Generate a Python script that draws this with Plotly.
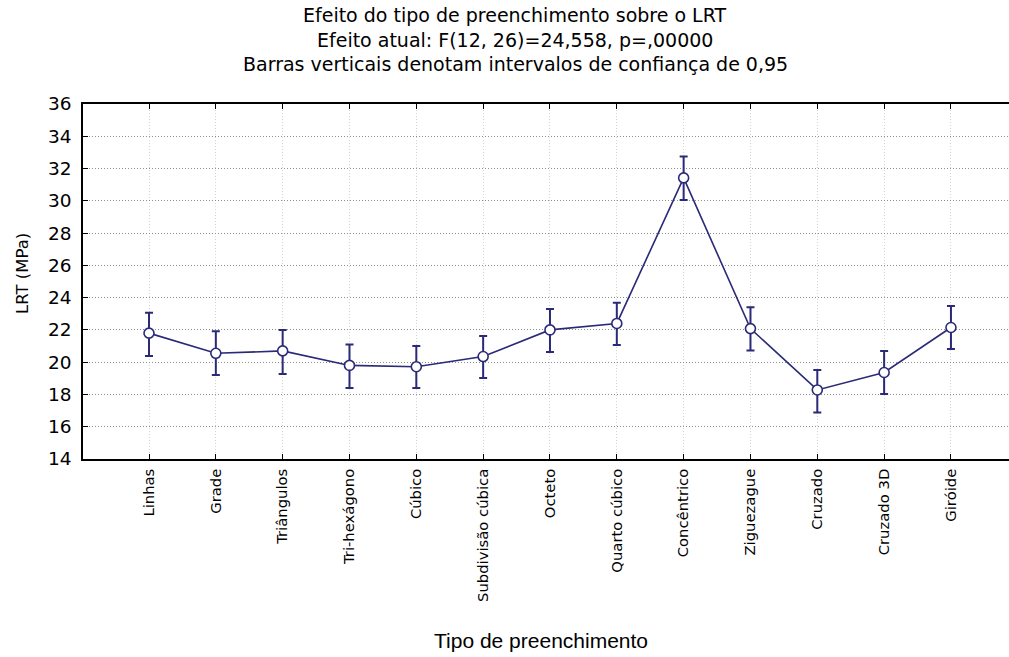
import plotly.graph_objects as go

# Infill patterns and their mean tensile strength (MPa) with 95% CI limits
categories = ["Linhas", "Grade", "Triângulos", "Tri-hexágono", "Cúbico",
              "Subdivisão cúbica", "Octeto", "Quarto cúbico", "Concêntrico",
              "Ziguezague", "Cruzado", "Cruzado 3D", "Giróide"]
means = [21.8, 20.55, 20.7, 19.8, 19.72, 20.35, 22.0, 22.4, 31.42, 22.08, 18.28, 19.36, 22.15]
ci_upper = [23.07, 21.92, 22.0, 21.09, 21.0, 21.63, 23.3, 23.69, 32.74, 23.4, 19.52, 20.7, 23.48]
ci_lower = [20.39, 19.21, 19.27, 18.4, 18.4, 19.02, 20.63, 21.07, 30.05, 20.72, 16.88, 18.03, 20.82]

y_ticks = list(range(14, 37, 2))

title_lines = [
    "Efeito do tipo de preenchimento sobre o LRT",
    "Efeito atual: F(12, 26)=24,558, p=,00000",
    "Barras verticais denotam intervalos de confiança de 0,95",
]

navy = "#2a2a78"
W, H = 1009, 657
L, T, R, B = 83, 104, 0, 198
plot_w = W - L - R
plot_h = H - T - B

err_plus = [u - m for u, m in zip(ci_upper, means)]
err_minus = [m - l for m, l in zip(means, ci_lower)]

fig = go.Figure()
fig.add_trace(go.Scatter(
    x=categories, y=means,
    mode="lines+markers",
    line=dict(color=navy, width=1.6),
    marker=dict(symbol="circle", size=10, color="white",
                line=dict(color=navy, width=1.6)),
    error_y=dict(type="data", symmetric=False, array=err_plus,
                 arrayminus=err_minus, color=navy, thickness=2, width=4),
    showlegend=False,
))

# category spacing in pixels; left edge sits one step before the first category
step_px = 66.83
x_lo = -(149 - L) / step_px
x_hi = x_lo + plot_w / step_px

font_main = "DejaVu Sans"

fig.update_layout(
    width=W, height=H,
    margin=dict(l=L, r=R, t=T, b=B, pad=0),
    paper_bgcolor="white", plot_bgcolor="white",
    font=dict(family=font_main, color="black"),
    xaxis=dict(
        type="category", range=[x_lo, x_hi],
        showline=True, linecolor="black", linewidth=1.6, mirror="ticks",
        ticks="inside", ticklen=5, tickcolor="black", tickwidth=1.2,
        showgrid=True, gridcolor="#d4d4d4", griddash="1px,2px", gridwidth=1,
        tickangle=-90, tickfont=dict(family=font_main, size=14.8, color="black"),
        ticklabelstandoff=2,
        zeroline=False,
    ),
    yaxis=dict(
        range=[14, 36], tickvals=y_ticks,
        showline=True, linecolor="black", linewidth=1.6, mirror=False,
        ticks="inside", ticklen=5, tickcolor="black", tickwidth=1.2,
        showgrid=True, gridcolor="#8c8c8c", griddash="1px,2px", gridwidth=1,
        tickfont=dict(family=font_main, size=18.5, color="black"),
        ticklabelstandoff=6,
        zeroline=False,
    ),
)

def px_x(px):
    return (px - L) / plot_w

def px_y(py):
    return (H - B - py) / plot_h

annotations = []
for text, yc in zip(title_lines, [15, 40, 64]):
    annotations.append(dict(
        text=text, x=px_x(515), y=px_y(yc), xref="paper", yref="paper",
        xanchor="center", yanchor="middle", showarrow=False,
        font=dict(family=font_main, size=19, color="black"),
    ))
annotations.append(dict(
    text="LRT (MPa)", x=px_x(22), y=px_y(274), xref="paper", yref="paper",
    xanchor="center", yanchor="middle", showarrow=False, textangle=-90,
    font=dict(family=font_main, size=16.5, color="black"),
))
annotations.append(dict(
    text="Tipo de preenchimento", x=px_x(541), y=px_y(640), xref="paper", yref="paper",
    xanchor="center", yanchor="middle", showarrow=False,
    font=dict(family="Liberation Sans", size=21, color="black"),
))
fig.update_layout(annotations=annotations)

fig.write_html("out.html")
